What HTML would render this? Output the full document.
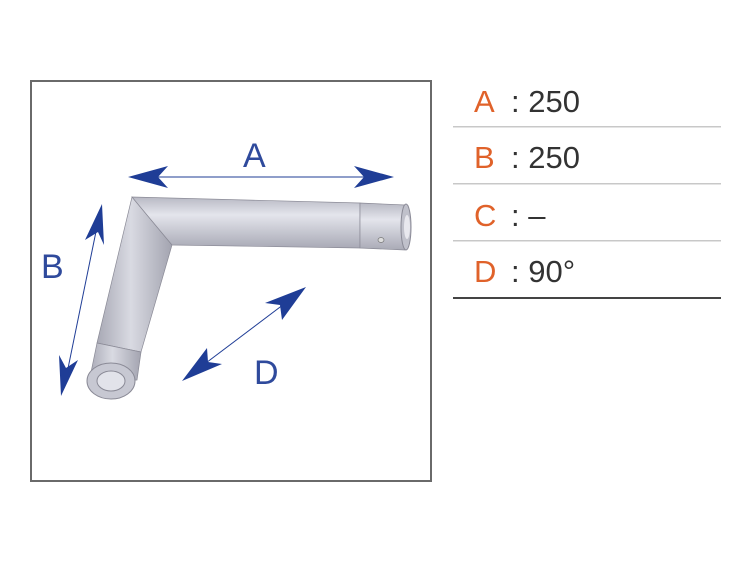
<!DOCTYPE html>
<html><head><style>
body{margin:0;background:#fff;width:750px;height:562px;overflow:hidden;font-family:"Liberation Sans",sans-serif}
</style></head><body>
<svg width="750" height="562" viewBox="0 0 750 562" xmlns="http://www.w3.org/2000/svg">
<defs>
<linearGradient id="h" x1="0" y1="0" x2="0" y2="1"><stop offset="0" stop-color="#b8b9c4"/><stop offset="0.35" stop-color="#e4e5ec"/><stop offset="1" stop-color="#a9aab6"/></linearGradient>
<linearGradient id="v" x1="0" y1="0" x2="1" y2="0"><stop offset="0" stop-color="#a8a9b5"/><stop offset="0.45" stop-color="#d9dae2"/><stop offset="1" stop-color="#a3a4b0"/></linearGradient>
</defs>
<rect x="31" y="81" width="400" height="400" fill="#fff" stroke="#6a6a6a" stroke-width="2"/>
<!-- vertical leg -->
<polygon points="132,197 172,245 141,352 97,343" fill="url(#v)" stroke="#8a8a96" stroke-width="0.7"/>
<polygon points="97,343 141,352 137,380 89,382" fill="url(#v)" stroke="#8a8a96" stroke-width="0.7"/>
<ellipse cx="111" cy="381" rx="24" ry="18" fill="#c7c8d2" stroke="#8a8a96"/>
<ellipse cx="111" cy="381" rx="14" ry="10" fill="#e2e3ea" stroke="#8a8a96"/>
<!-- horizontal leg -->
<polygon points="132,197 360,203 360,248 172,245 Q160,213 132,197" fill="url(#h)" stroke="#8a8a96" stroke-width="0.7"/>
<polygon points="360,203 405,205 405,250 360,248" fill="url(#h)" stroke="#8a8a96" stroke-width="0.7"/>
<ellipse cx="406" cy="227" rx="5" ry="23" fill="#c0c1cb" stroke="#8a8a96"/>
<ellipse cx="407" cy="227" rx="3" ry="12" fill="#e8e8ee"/>
<ellipse cx="381" cy="240" rx="3" ry="2.5" fill="#ddd" stroke="#777" stroke-width="0.7"/>
<!-- arrows -->
<g fill="#1f3d96" stroke="#1f3d96">
<line x1="140" y1="177" x2="382" y2="177" stroke-width="1"/>
<polygon points="128,177 168,166 158,177 168,188" stroke="none"/>
<polygon points="394,177 354,166 364,177 354,188" stroke="none"/>
<line x1="100" y1="212" x2="64" y2="388" stroke-width="1"/>
<polygon points="102,204 104,245 98,232 85,240" stroke="none"/>
<polygon points="61,396 59,355 66,368 78,360" stroke="none"/>
<line x1="300" y1="292" x2="190" y2="375" stroke-width="1"/>
<polygon points="306,287 282,320 280,305 265,303" stroke="none"/>
<polygon points="182,381 207,348 208,362 222,364" stroke="none"/>
</g>
<g fill="#2f4a9c" font-size="34" font-family="Liberation Sans,sans-serif">
<text x="243" y="167">A</text>
<text x="41" y="278">B</text>
<text x="254" y="384">D</text>
</g>
<!-- table -->
<g font-size="31" font-family="Liberation Sans,sans-serif">
<text x="474" y="112" fill="#e0622a">A</text><text x="511" y="112" fill="#333">: 250</text>
<text x="474" y="168" fill="#e0622a">B</text><text x="511" y="168" fill="#333">: 250</text>
<text x="474" y="226" fill="#e0622a">C</text><text x="511" y="226" fill="#333">: –</text>
<text x="474" y="282" fill="#e0622a">D</text><text x="511" y="282" fill="#333">: 90°</text>
</g>
<rect x="453" y="126" width="268" height="1.5" fill="#c8c8c8"/>
<rect x="453" y="183" width="268" height="1.5" fill="#c8c8c8"/>
<rect x="453" y="240" width="268" height="1.5" fill="#c8c8c8"/>
<rect x="453" y="297" width="268" height="2" fill="#444"/>
</svg>
</body></html>
